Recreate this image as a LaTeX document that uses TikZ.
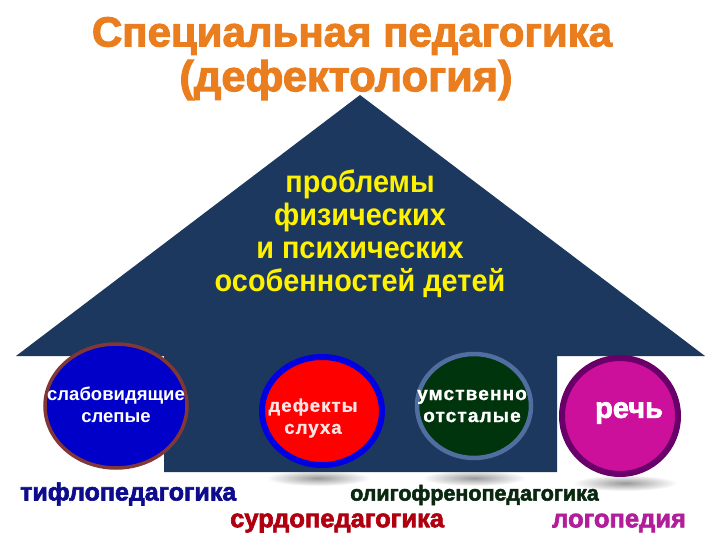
\documentclass[tikz,border=0pt]{standalone}
\usepackage{fontspec}
\setmainfont{Liberation Sans}
\newfontfamily\heavyfont[FakeBold=2.5]{Liberation Sans Bold}
\newfontfamily\spacedfont[LetterSpace=6,FakeBold=1]{Liberation Sans Bold}
\usepackage{graphicx}
\definecolor{house}{RGB}{28,56,94}
\definecolor{orng}{RGB}{234,126,30}
\definecolor{bluefill}{RGB}{0,0,200}
\definecolor{brownring}{RGB}{130,55,55}
\definecolor{bluering}{RGB}{0,0,225}
\definecolor{greenfill}{RGB}{0,52,12}
\definecolor{steelring}{RGB}{80,110,160}
\definecolor{magfill}{RGB}{204,16,156}
\definecolor{purplering}{RGB}{105,0,105}
\definecolor{tiflo}{RGB}{12,12,140}
\definecolor{oligo}{RGB}{10,40,16}
\definecolor{surdo}{RGB}{176,0,16}
\definecolor{logo}{RGB}{178,30,154}
\tikzset{
  titletxt/.style={text=orng, font=\heavyfont, inner sep=0pt},
  housetxt/.style={text=yellow, font=\bfseries\fontsize{31}{33}\selectfont, align=center, inner sep=0pt},
  circtxt/.style={text=white, font=\spacedfont\fontsize{18}{22}\selectfont, align=center, inner sep=0pt},
  labeltxt/.style={font=\bfseries, inner sep=0pt, anchor=west},
  shadowell/.style={inner color=gray!80, outer color=white},
}
\begin{document}
\begin{tikzpicture}[x=1pt,y=-1pt]
\useasboundingbox (0,0) rectangle (720,540);
\fill[white] (0,0) rectangle (720,540);
% title
\node[titletxt] (t1) at (352,36) {\resizebox{520pt}{!}{\fontsize{40}{40}\selectfont Специальная педагогика}};
\node[titletxt] (t2) at (346,80) {\resizebox{333pt}{!}{\fontsize{40}{40}\selectfont (дефектология)}};
% shadows
\shade[shadowell] (318,478) ellipse (52 and 8);
\shade[shadowell] (474,478) ellipse (52 and 8);
\shade[shadowell] (625,483) ellipse (52 and 8);
% house
\fill[house] (360,95) -- (705,356) -- (557,356) -- (557,472) -- (164,472) -- (164,356) -- (16,356) -- cycle;
\node[housetxt] (h) at (360,234) {\scalebox{0.93}[1]{проблемы}\\ \scalebox{0.93}[1]{физических}\\ \scalebox{0.93}[1]{и психических}\\ \scalebox{0.93}[1]{особенностей детей}};
% circles
\path[fill=bluefill, draw=brownring, line width=3.5pt] (116,406) ellipse (71 and 62);
\node[circtxt, font=\bfseries\fontsize{18.5}{22}\selectfont] (c1) at (116,405) {слабовидящие\\слепые};
\path[fill=red, draw=bluering, line width=6pt] (322,411) ellipse (60 and 54);
\node[circtxt, text=white!90!red, font=\spacedfont\fontsize{18.5}{22}\selectfont] (c2) at (313,418) {дефекты\\слуха};
\path[fill=greenfill, draw=steelring, line width=4.5pt] (474,406) ellipse (57 and 52);
\node[circtxt, font=\spacedfont\fontsize{19}{22}\selectfont] (c3) at (472,406) {умственно\\отсталые};
\path[fill=magfill, draw=purplering, line width=6pt] (620,416) ellipse (58 and 58);
\node[circtxt, font=\heavyfont\fontsize{29}{30}\selectfont] (c4) at (629,413) {речь};
% labels
\node[labeltxt, text=tiflo, font=\heavyfont\fontsize{25}{25}\selectfont] (l1) at (20,494) {тифлопедагогика};
\node[labeltxt, text=oligo, font=\heavyfont\fontsize{21.5}{24}\selectfont] (l2) at (350,495) {олигофренопедагогика};
\node[labeltxt, text=surdo, font=\heavyfont\fontsize{25.5}{25}\selectfont] (l3) at (230,523) {сурдопедагогика};
\node[labeltxt, text=logo, font=\heavyfont\fontsize{25.5}{25}\selectfont] (l4) at (552,523) {логопедия};
\end{tikzpicture}
\end{document}
